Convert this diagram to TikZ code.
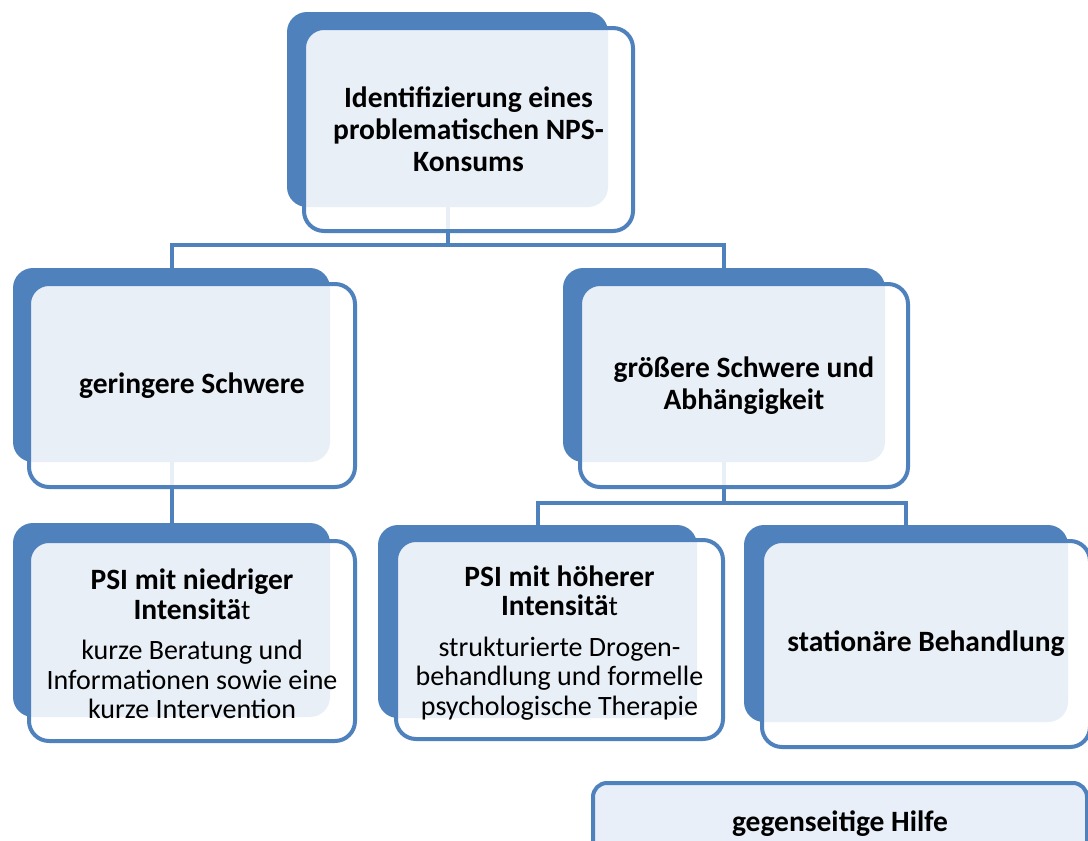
\documentclass[tikz,border=0pt]{standalone}
\usepackage{fontspec}
\setmainfont{Carlito}
\definecolor{obl}{RGB}{79,129,189}
\definecolor{lbl}{RGB}{232,239,248}
\tikzset{
  shad/.style={fill=obl, rounded corners=20pt, inner sep=0pt},
  front/.style={draw=obl, line width=4pt, fill=white, fill opacity=0.88, text opacity=1,
    rounded corners=20pt, inner sep=0pt, align=center},
  conn/.style={draw=obl, line width=4pt},
  big/.style={font=\fontsize{29.5}{32}\selectfont\bfseries},
  mixed/.style={font=\fontsize{28}{29.5}\selectfont},
}
\newcommand{\hb}[1]{\textbf{\fontsize{29.5}{30}\selectfont #1}}
\begin{document}
\begin{tikzpicture}[x=1pt,y=-1pt]
\useasboundingbox (0,0) rectangle (1088,841);
\clip (0,0) rectangle (1088,841);
% shadows
\node[shad, minimum width=321pt, minimum height=195pt] (s1) at (447.5,109.5) {};
\node[shad, minimum width=317pt, minimum height=194pt] (s2) at (171.5,365) {};
\node[shad, minimum width=322pt, minimum height=194pt] (s3) at (724,365) {};
\node[shad, minimum width=317pt, minimum height=194pt] (s4) at (171.5,620) {};
\node[shad, minimum width=319pt, minimum height=193pt] (s5) at (537.5,621.5) {};
\node[shad, minimum width=324pt, minimum height=197pt] (s6) at (906,623.5) {};
% connectors
\coordinate (j1) at (447.5,245);
\coordinate (j2) at (724,503);
\draw[conn] (s1.south) -- (j1);
\draw[conn] (j1) -| (s2.north);
\draw[conn] (j1) -| (s3.north);
\draw[conn] (s2.south) -- (s4.north);
\draw[conn] (s3.south) -- (j2);
\draw[conn] (j2) -| (s5.north);
\draw[conn] (j2) -| (s6.north);
% front boxes
\node[front, big, minimum width=329pt, minimum height=203pt] (f1) at (468.5,129.5)
  {Identifizierung eines\\problematischen NPS-\\Konsums};
\node[front, big, minimum width=326pt, minimum height=203pt] (f2) at (192,385.5)
  {geringere Schwere};
\node[front, big, minimum width=328pt, minimum height=203pt] (f3) at (744,385.5)
  {größere Schwere und\\Abhängigkeit};
\node[front, mixed, minimum width=326pt, minimum height=200pt] (f4) at (192,641)
  {\rule{0pt}{27pt}\hb{PSI mit niedriger}\\\hb{Intensitä}t\\[11pt]kurze Beratung und\\Informationen sowie eine\\kurze Intervention};
\node[front, mixed, minimum width=327pt, minimum height=199pt] (f5) at (559.5,639.5)
  {\rule{0pt}{27pt}\hb{PSI mit höherer}\\\hb{Intensitä}t\\[11pt]strukturierte Drogen-\\behandlung und formelle\\psychologische Therapie};
\node[front, big, minimum width=328pt, minimum height=206pt] (f6) at (926,644)
  {stationäre Behandlung};
\node[draw=obl, line width=4pt, fill=lbl, rounded corners=14pt, big,
  minimum width=494pt, minimum height=90pt, inner sep=0pt] (f7) at (840,828)
  {\raisebox{14pt}{gegenseitige Hilfe}};
\end{tikzpicture}
\end{document}
